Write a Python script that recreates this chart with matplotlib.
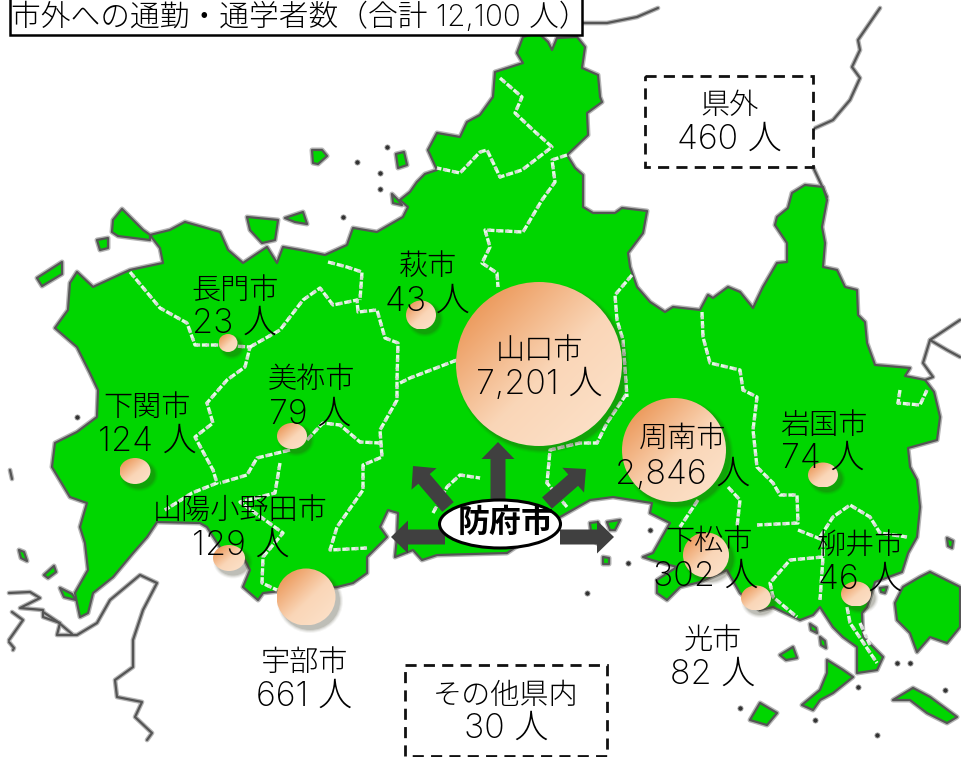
import matplotlib
matplotlib.use("Agg")
import matplotlib.pyplot as plt
from matplotlib.patches import Polygon, Ellipse, Rectangle, FancyArrow
import numpy as np

plt.rcParams['font.family'] = ['Noto Sans CJK JP', 'DejaVu Sans']

# data
cities = ['山口市', '周南市', '宇部市', '下松市', '山陽小野田市', '下関市', '光市',
          '美祢市', '岩国市', '柳井市', '萩市', '長門市']
commuters = [7201, 2846, 661, 302, 129, 124, 82, 79, 74, 46, 43, 23]
others = ['県外', 'その他県内']
others_n = [460, 30]
origin = '防府市'
title = '市外への通勤・通学者数（合計 12,100 人）'

# map outlines, traced in picture pixels
mainland = [(523,37),(538,33),(548,42),(552,50),(557,38),(577,37),(585,47),(582,68),(598,75),(600,97),(602,102),
    (587,113),(588,135),(567,155),(575,168),(583,175),(583,207),(593,213),(615,213),(622,208),(647,211),(643,233),(628,253),
    (630,267),(637,287),(650,302),(665,312),(673,307),(700,310),(708,295),(713,298),(728,287),(740,292),(753,308),
    (763,287),(777,263),(787,262),(787,243),(775,225),(777,217),(788,208),(792,193),(805,185),(823,187),(827,200),
    (822,227),(825,243),(823,267),(837,270),(845,287),(857,290),(858,315),(865,322),(867,343),(875,365),(910,368),
    (905,376),(925,380),(934,392),(940,417),(937,440),(908,448),(910,467),(917,480),(920,507),(917,537),(908,553),(902,572),
    (875,582),(867,607),(862,613),(863,637),(883,657),(877,670),(857,673),(857,647),(843,637),(833,627),(820,607),
    (813,615),(800,620),(773,607),(760,610),(740,593),(727,570),(700,582),(680,587),(667,600),(657,593),(657,580),
    (677,567),(652,560),(643,557),(653,553),(670,523),(650,513),(652,503),(613,497),(590,500),(560,517),(507,553),
    (437,555),(422,560),(413,550),(395,557),(397,537),(398,513),(388,510),(380,527),(387,537),(367,557),(367,573),
    (353,583),(337,587),(290,590),(263,593),(258,600),(243,587),(250,570),(245,560),(225,555),(207,527),(200,523),
    (157,522),(147,537),(133,553),(113,577),(93,593),(88,613),(80,617),(75,593),(88,570),(85,543),(80,527),(87,503),
    (70,497),(58,477),(52,467),(55,443),(77,432),(97,417),(98,390),(90,373),(77,347),(55,328),(68,310),(70,283),
    (77,272),(93,287),(130,270),(163,263),(160,248),(150,235),(170,230),(185,222),(220,232),(228,250),(243,263),
    (267,247),(277,263),(283,247),(300,250),(325,255),(347,245),(353,228),(377,232),(403,217),(408,207),(400,200),
    (410,192),(417,182),(425,174),(437,170),(428,150),(437,133),(460,137),(467,122),(480,115),(493,97),(495,72),(523,63),(517,53)]
islands = [
    [(122,209),(143,230),(150,235),(150,240),(118,236),(112,232),(113,220)],
    [(247,217),(278,220),(275,240),(262,243),(250,230)],
    [(285,218),(303,212),(307,224),(295,222)],
    [(97,240),(108,238),(108,248),(100,250)],
    [(37,278),(62,262),(62,274),(42,286)],
    [(312,150),(322,150),(327,156),(318,164),(313,163)],
    [(396,154),(404,152),(407,165),(398,168)],
    [(392,194),(398,200),(402,205),(393,203)],
    [(960,587),(930,572),(920,577),(903,587),(895,603),(897,620),(910,633),(917,652),(930,637),(947,643),(960,627)],
    [(827,660),(843,670),(853,677),(833,693),(820,700),(813,710),(802,705),(820,690),(827,673)],
    [(760,703),(777,713),(767,725),(750,720)],
    [(893,700),(913,688),(930,697),(957,717),(947,723),(927,713),(910,700)],
    [(780,655),(793,647),(797,658),(786,660)],
    [(590,523),(598,522),(600,545),(592,540)],
    [(607,522),(620,520),(615,530),(610,530)],
    [(603,557),(609,558),(609,564),(603,564)],
    [(19,550),(24,552),(27,561),(21,558)],
    [(44,575),(54,566),(56,572),(48,578)],
    [(60,588),(72,594),(76,600),(64,597)],
    [(810,624),(816,628),(817,633),(811,630)],
    [(820,637),(825,641),(826,648),(821,645)],
    [(947,538),(953,541),(952,548),(948,546)],
    [(880,588),(887,587),(885,593),(881,592)],
]
dots = [(387,147),(357,162),(380,173),(380,189),(343,217),(77,417),(587,593),(858,687),(897,663),(910,663),
        (815,720),(740,708),(945,690),(877,735),(650,530),(628,563)]
coast_lines = [
    [(580,23),(607,23),(637,17),(658,8)],
    [(880,8),(858,40),(860,50),(852,67),(860,78),(850,100),(833,120),(813,129)],
    [(813,167),(827,197)],
    [(960,320),(930,340),(923,363),(933,377),(925,380)],
    [(960,357),(947,350),(930,340)],
    [(9,593),(30,592),(40,598),(20,608),(43,610),(43,617),(60,623),(57,635),(77,635),(97,623),(110,600),(122,590),
     (140,575),(157,583),(143,610),(133,640),(133,667),(115,680),(117,697),(142,702),(135,717),(152,733),(147,740)],
    [(9,640),(23,620),(12,612)],
    [(9,642),(14,648),(13,650)],
    [(43,612),(58,622),(72,634)],
    [(10,470),(12,479)],
]
borders = [
    [(130,272),(160,308),(187,323),(195,345),(217,345),(250,347),(245,367),(227,380),(207,403),(213,423),(195,437),
     (213,470),(217,483),(192,493),(165,510)],
    [(250,347),(280,330),(303,300),(320,288),(333,305),(357,300),(358,312),(377,310),(385,338),(398,343),(397,380),
     (397,400),(380,430),(382,457),(363,465),(363,490),(337,527),(330,550),(367,548)],
    [(328,262),(347,267),(362,272),(360,300)],
    [(307,440),(323,423),(340,425),(360,442),(380,443)],
    [(290,450),(257,458),(247,475),(220,483)],
    [(280,463),(275,493),(240,502),(283,533),(263,557),(262,583),(277,590)],
    [(400,383),(410,378),(457,360)],
    [(433,513),(447,487),(460,475),(480,478)],
    [(567,507),(547,483),(550,450),(580,443),(597,443),(607,423),(627,393)],
    [(500,78),(522,97),(515,113),(533,130),(552,147),(522,170),(500,177),(487,150),(480,152),(460,173),(437,168)],
    [(567,155),(552,160),(555,182),(542,200),(523,232),(485,230),(490,247),(482,263),(497,273),(498,287)],
    [(632,275),(615,295),(617,320),(623,340),(627,397)],
    [(702,312),(703,337),(710,363),(740,370),(743,390),(757,397),(753,430),(757,467),(773,483),(780,495),(797,495),
     (798,523),(757,525)],
    [(798,530),(823,540),(823,557),(820,600)],
    [(823,557),(790,560),(770,583),(773,597),(797,617)],
    [(820,537),(833,517),(850,505),(870,517),(880,533),(907,537)],
    [(728,487),(740,500),(737,527)],
    [(698,500),(680,527)],
    [(900,390),(898,403),(920,405),(927,390)],
    [(847,607),(850,623),(877,663)],
    [(860,623),(870,645)],
]

# layout, in the same order as cities
bubble_xy = [(539,364),(674,450),(306,597),(706,555),(229,558),(135,471),(756,598),(292,436),(823,475),(856,594),(421,315),(228,343)]
bubble_wh = [(166,164),(104,104),(59,57),(46,45),(32,26),(31,26),(30,25),(30,26),(30,25),(30,25),(30,29),(19,18)]
name_xy = [(539,351),(683,440),(304,663),(709,542),(240,511),(147,408),(713,641),(311,380),(824,426),(861,546),(428,267),(235,291)]
num_xy = [(539,385),(683,475),(304,697),(706,577),(241,546),(147,442),(713,675),(310,415),(823,459),(860,580),(427,302),(235,324)]
other_xy = [(729,106),(506,696)]
other_num_xy = [(729,140),(506,729)]
other_box = [(645,76,168,91),(405,665,202,91)]
arrow_lines = [(445,537,391,537),(448,507,413,466),(498,500,498,442),(547,503,586,469),(560,537,614,537)]

fig = plt.figure(figsize=(9.61, 7.57), dpi=100)
ax = fig.add_axes([0, 0, 1, 1])
ax.set_axis_off()

# map
def land(pts):
    ax.add_patch(Polygon(pts, closed=True, fc='none', ec='#b5b5b5', lw=3.6, zorder=1, joinstyle='round'))
    ax.add_patch(Polygon(pts, closed=True, fc='#00d600', ec='#555555', lw=1.6, zorder=2, joinstyle='round'))

land(mainland)
for isl in islands:
    land(isl)
for line in coast_lines:
    xs, ys = zip(*line)
    ax.plot(xs, ys, color='#b5b5b5', lw=3.4, zorder=1, solid_capstyle='round')
    ax.plot(xs, ys, color='#555555', lw=1.6, zorder=2, solid_capstyle='round')
dx, dy = zip(*dots)
ax.scatter(dx, dy, s=14, color='#333333', edgecolors='#aaaaaa', linewidths=0.6, zorder=2)
for line in borders:
    xs, ys = zip(*line)
    ax.plot(xs, ys, color='white', lw=2.4, ls=(0, (1.6, 1.1)), zorder=3, alpha=0.9)
    ax.plot(xs, ys, color='#d8d8d8', lw=2.4, ls=(1.6, (1.1, 1.6)), zorder=3)

# bubbles
c0 = np.array([0.91, 0.53, 0.25])
c1 = np.array([0.98, 0.84, 0.72])
c2 = np.array([0.99, 0.89, 0.80])
gy, gx = np.mgrid[0:1:128j, 0:1:128j]
t = ((gx + gy) / 2)[..., None]
grad = np.where(t < 0.55, c0 + (c1 - c0) * t / 0.55, c1 + (c2 - c1) * (t - 0.55) / 0.45)

for (x, y), (w, h) in zip(bubble_xy, bubble_wh):
    for grow, a in zip([7, 5, 3, 1], [0.05, 0.07, 0.1, 0.14]):
        ax.add_patch(Ellipse((x + 4, y + 4), w + grow, h + grow, fc='#3a3a20', ec='none', alpha=a, zorder=4))
    im = ax.imshow(grad, extent=(x - w / 2, x + w / 2, y + h / 2, y - h / 2), zorder=5, aspect='auto', interpolation='bilinear')
    e = Ellipse((x, y), w, h, transform=ax.transData, fc='none', ec='none')
    ax.add_patch(e)
    im.set_clip_path(e)

# arrows
for x0, y0, x1, y1 in arrow_lines:
    ax.add_patch(FancyArrow(x0, y0, x1 - x0, y1 - y0, width=15, head_width=33, head_length=17,
                            length_includes_head=True, fc='#404040', ec='none', zorder=6))
ax.add_patch(Ellipse((500, 524), 121, 48, fc='white', ec='black', lw=2.2, zorder=7))
ax.text(506, 523, origin, fontsize=23, fontweight='bold', ha='center', va='center', zorder=8)

# labels, digits in a wider light face
num_font = ['Inter', 'Noto Sans CJK JP']
for name, n, p, q in zip(cities, commuters, name_xy, num_xy):
    ax.text(p[0], p[1], name, fontsize=21, fontweight='light', ha='center', va='center', zorder=9)
    ax.text(q[0], q[1], f'{n:,} 人', fontsize=24.5, family=num_font, fontweight='light', ha='center', va='center', zorder=9)

for name, n, p, q, b in zip(others, others_n, other_xy, other_num_xy, other_box):
    ax.add_patch(Rectangle(b[:2], b[2], b[3], fc='white', ec='#111111', lw=2, ls=(0, (4, 2.6)), zorder=3))
    ax.text(p[0], p[1], name, fontsize=21, fontweight='light', ha='center', va='center', zorder=9)
    ax.text(q[0], q[1], f'{n:,} 人', fontsize=24.5, family=num_font, fontweight='light', ha='center', va='center', zorder=9)

# title box
ax.add_patch(Rectangle((10, -3), 572, 38, fc='white', ec='black', lw=1.8, zorder=10))
ax.text(11, 17, title, fontsize=21.4, family=num_font, fontweight='light', ha='left', va='center', zorder=11)

ax.set_xlim(0, 961)
ax.set_ylim(757, 0)
fig.savefig('out.png', dpi=100)
